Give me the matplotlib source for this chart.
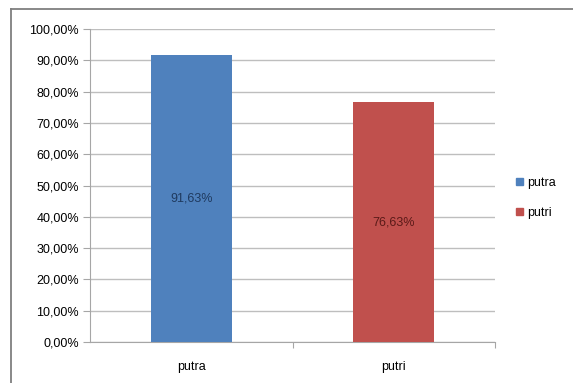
import matplotlib
matplotlib.use("Agg")
import matplotlib.pyplot as plt
from matplotlib.lines import Line2D
from matplotlib.patches import Patch
from matplotlib.ticker import FuncFormatter, MultipleLocator

categories = ["putra", "putri"]
values = [91.63, 76.63]
value_labels = ["91,63%", "76,63%"]
colors = ["#4F81BD", "#C0504D"]
label_colors = ["#1F3A5F", "#5A1A18"]

plt.rcParams['font.family'] = ['Liberation Sans', 'DejaVu Sans']

W, H = 573, 383
fig = plt.figure(figsize=(W / 100, H / 100), dpi=100)
# outer chart frame: only top and left edges show in the crop
fig.add_artist(Line2D([11 / W, 11 / W], [0, 1 - 9 / H], color="#7F7F7F",
                      linewidth=1.3, transform=fig.transFigure))
fig.add_artist(Line2D([11 / W, 1], [1 - 9 / H, 1 - 9 / H], color="#7F7F7F",
                      linewidth=1.3, transform=fig.transFigure))

ax = fig.add_axes([90 / W, (H - 342) / H, 405 / W, 313 / H])
x = range(len(categories))
bars = ax.bar(x, values, width=0.4, color=colors, zorder=3)

for b, lab, c in zip(bars, value_labels, label_colors):
    ax.text(b.get_x() + b.get_width() / 2, b.get_height() / 2, lab,
            ha="center", va="center", fontsize=9, color=c, zorder=4)

ax.set_xlim(-0.5, 1.5)
ax.set_ylim(0, 100)
ax.yaxis.set_major_locator(MultipleLocator(10))
ax.yaxis.set_major_formatter(FuncFormatter(lambda v, p: f"{v:.2f}%".replace(".", ",")))
ax.set_xticks([0.5, 1.5])
ax.set_xticks(list(x), minor=True)
ax.set_xticklabels(["", ""])
ax.set_xticklabels(categories, minor=True)
ax.tick_params(axis="x", which="minor", length=0, pad=14, labelsize=9)
ax.tick_params(axis="x", which="major", length=4, color="#A6A6A6")
ax.tick_params(axis="y", length=5, color="#A6A6A6", labelsize=9, pad=3)
ax.grid(axis="y", color="#BEBEBE", linewidth=1.0, zorder=0)

for s in ["top", "right"]:
    ax.spines[s].set_visible(False)
for s in ["left", "bottom"]:
    ax.spines[s].set_color("#A6A6A6")

handles = [Patch(color=c, label=l) for c, l in zip(colors, categories)]
fig.legend(handles=handles, loc="center left", bbox_to_anchor=(505 / W, 185 / H),
           frameon=False, fontsize=9, handlelength=0.55, handleheight=0.55,
           handletextpad=0.3, labelspacing=1.45)

fig.savefig("out.png", dpi=100)
